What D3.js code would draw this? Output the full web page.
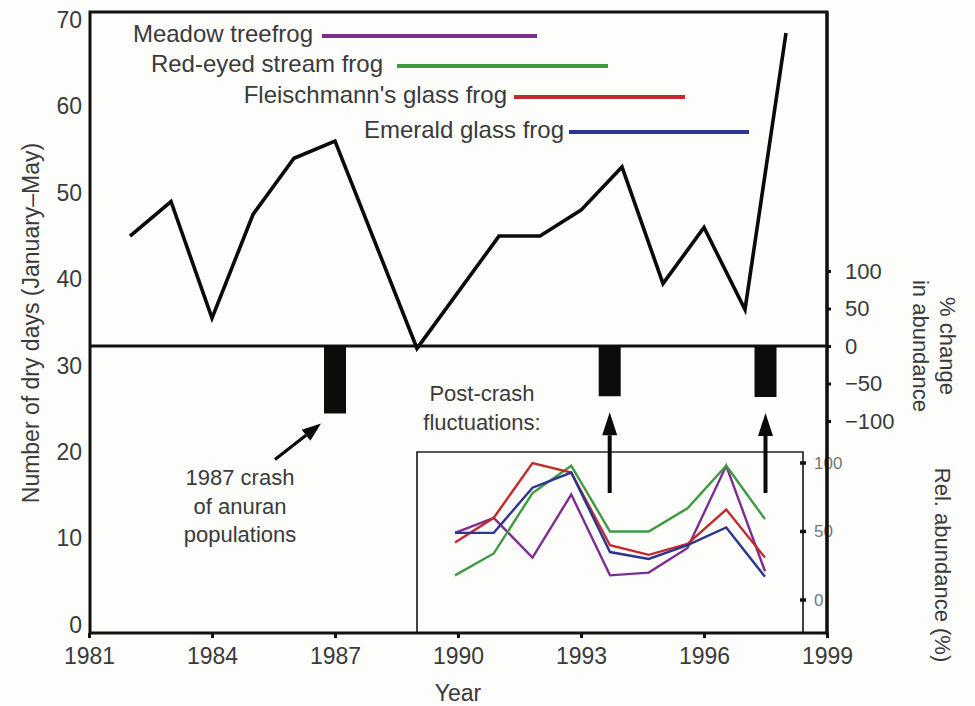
<!DOCTYPE html>
<html>
<head>
<meta charset="utf-8">
<script src="https://cdn.jsdelivr.net/npm/d3@7"></script>
<style>
  html, body { margin: 0; padding: 0; background: #fdfdfb; }
  svg { display: block; }
  text { font-family: "Liberation Sans", Arial, Helvetica, sans-serif; fill: #3a3a3a; }
</style>
</head>
<body>
<svg id="chart" width="975" height="706"></svg>
<script>
// Dry days per season (January–May)
const dryYears = [1982, 1983, 1984, 1985, 1986, 1987, 1989, 1991, 1992, 1993, 1994, 1995, 1996, 1997, 1998];
const dryDays  = [45, 49, 35.5, 47.5, 54, 56, 32, 45, 45, 48, 53, 39.5, 46, 36.5, 68.5];

// Crash events: % change in abundance
const crashYears  = [1987, 1993.7, 1997.5];
const crashChange = [-90, -67, -68];

// Post-crash relative abundance (%) of four species
const insetYears = [1990, 1991, 1992, 1993, 1994, 1995, 1996, 1997, 1998];
const species = ["Meadow treefrog", "Red-eyed stream frog", "Fleischmann's glass frog", "Emerald glass frog"];
const speciesColors = ["#7d2e8f", "#3f9a44", "#c42a2c", "#2c3590"];
const meadowTreefrog     = [49, 60, 31, 77, 18, 20, 38, 98, 21];
const redEyedStreamFrog  = [18, 34, 78, 98, 50, 50, 67, 98, 59];
const fleischmannsFrog   = [42, 60, 100, 93, 40, 33, 41, 66, 31];
const emeraldGlassFrog   = [49, 49, 82, 93, 35, 30, 40, 53, 17];
const insetSeries = [meadowTreefrog, redEyedStreamFrog, fleischmannsFrog, emeraldGlassFrog];

// Tick labels
const xTicks = [1981, 1984, 1987, 1990, 1993, 1996, 1999];
const dryTicks = [0, 10, 20, 30, 40, 50, 60, 70];
const changeTicks = [-100, -50, 0, 50, 100];
const relTicks = [0, 50, 100];

const svg = d3.select("#chart");
const FONT = 23;
const FAMILY = "Liberation Sans, Arial, sans-serif";

// Layout
const frame = { left: 90, right: 827, top: 12, bottom: 633 };
const x = d3.scaleLinear().domain([1981, 1999]).range([89, 827]);
const yDry = d3.scaleLinear().domain([0, 70]).range([625, 20]);
const yChange = d3.scaleLinear().domain([-100, 100]).range([421, 271]);
const yRel = d3.scaleLinear().domain([0, 100]).range([600, 463]);
const xInset = d3.scaleLinear().domain([1990, 1998]).range([455, 765]);
const inset = { left: 417, right: 803, top: 452, bottom: frame.bottom };

// ---- Inset: post-crash fluctuations ----
const gi = svg.append("g");
gi.append("path")
  .attr("d", `M${inset.left},${inset.bottom}V${inset.top}H${inset.right}V${inset.bottom}`)
  .attr("fill", "none").attr("stroke", "#222").attr("stroke-width", 1.7);

// inset axis ticks and labels (the main right axis is drawn over them)
relTicks.forEach(v => {
  gi.append("line").attr("x1", inset.right - 3).attr("x2", inset.right + 3)
    .attr("y1", yRel(v)).attr("y2", yRel(v))
    .attr("stroke", "#111").attr("stroke-width", 3.5);
  gi.append("text").attr("x", inset.right + 11).attr("y", yRel(v))
    .attr("dy", "0.35em").attr("font-size", 17).style("fill", "#777")
    .text(v);
});

const insetLine = d3.line().x((d, i) => xInset(insetYears[i])).y(d => yRel(d));
insetSeries.forEach((s, k) => {
  gi.append("path").datum(s)
    .attr("d", insetLine)
    .attr("fill", "none")
    .attr("stroke", speciesColors[k])
    .attr("stroke-width", 2.4)
    .attr("stroke-linejoin", "miter");
});

// ---- Main frame ----
svg.append("rect")
  .attr("x", frame.left).attr("y", frame.top)
  .attr("width", frame.right - frame.left).attr("height", frame.bottom - frame.top)
  .attr("fill", "none").attr("stroke", "#111").attr("stroke-width", 3);
// divider at 0 % change
svg.append("line")
  .attr("x1", frame.left).attr("x2", frame.right)
  .attr("y1", yChange(0)).attr("y2", yChange(0))
  .attr("stroke", "#111").attr("stroke-width", 3);

// ---- Axes ----
const xAxis = svg.append("g").attr("transform", `translate(0,${frame.bottom})`)
  .call(d3.axisBottom(x).tickValues(xTicks).tickFormat(d3.format("d")).tickSize(5).tickPadding(10));
xAxis.select(".domain").remove();
xAxis.selectAll(".tick line").attr("stroke", "#111").attr("stroke-width", 3);
xAxis.selectAll("text").attr("font-size", FONT).style("font-family", FAMILY).style("fill", "#3a3a3a");

const yAxisL = svg.append("g").attr("transform", `translate(${frame.left},0)`)
  .call(d3.axisLeft(yDry).tickValues(dryTicks).tickSize(0).tickPadding(8));
yAxisL.select(".domain").remove();
yAxisL.selectAll("text").attr("font-size", FONT).style("font-family", FAMILY).style("fill", "#3a3a3a");

const yAxisR = svg.append("g").attr("transform", `translate(${frame.right},0)`)
  .call(d3.axisRight(yChange).tickValues(changeTicks).tickSize(4).tickPadding(14));
yAxisR.select(".domain").remove();
yAxisR.selectAll(".tick line").attr("stroke", "#111").attr("stroke-width", 3);
yAxisR.selectAll("text").attr("font-size", 22).style("font-family", FAMILY).style("fill", "#3a3a3a");

// Axis titles
svg.append("text").attr("transform", "translate(31,323) rotate(-90)")
  .attr("text-anchor", "middle").attr("dy", "0.35em").attr("font-size", FONT)
  .text("Number of dry days (January\u2013May)");
svg.append("text").attr("x", x(1990)).attr("y", 693).attr("dy", "0.35em")
  .attr("text-anchor", "middle").attr("font-size", FONT).text("Year");
const rt = svg.append("text").attr("transform", `translate(934,${yChange(0)}) rotate(90)`)
  .attr("text-anchor", "middle").attr("font-size", 22);
rt.append("tspan").attr("x", 0).attr("dy", "-0.25em").text("% change");
rt.append("tspan").attr("x", 0).attr("dy", "1.2em").text("in abundance");
svg.append("text").attr("transform", "translate(943,565) rotate(90)")
  .attr("text-anchor", "middle").attr("dy", "0.35em").attr("font-size", 22)
  .text("Rel. abundance (%)");

// ---- Crash bars ----
const barW = 22;
svg.append("g").selectAll("rect").data(crashYears).join("rect")
  .attr("x", d => x(d) - barW / 2)
  .attr("y", yChange(0))
  .attr("width", barW)
  .attr("height", (d, i) => yChange(crashChange[i]) - yChange(0))
  .attr("fill", "#0c0c0c");

// ---- Dry-days line ----
svg.append("path").datum(dryDays)
  .attr("d", d3.line().x((d, i) => x(dryYears[i])).y(d => yDry(d)))
  .attr("fill", "none").attr("stroke", "#0a0a0a")
  .attr("stroke-width", 3.6).attr("stroke-linejoin", "miter");

// ---- Legend ----
const legend = [
  { textEnd: 313, y: 36, x1: 322, x2: 537 },
  { textEnd: 383, y: 66, x1: 397, x2: 608 },
  { textEnd: 507, y: 97, x1: 514, x2: 685 },
  { textEnd: 564, y: 132, x1: 569, x2: 749 }
];
legend.forEach((l, i) => {
  svg.append("text").attr("x", l.textEnd).attr("y", l.y + 6)
    .attr("text-anchor", "end").attr("font-size", 24).text(species[i]);
  svg.append("line").attr("x1", l.x1).attr("x2", l.x2).attr("y1", l.y).attr("y2", l.y)
    .attr("stroke", speciesColors[i]).attr("stroke-width", 4);
});

// ---- Arrows & annotations ----
function arrow(x1, y1, x2, y2, w, headLen, headW) {
  const ang = Math.atan2(y2 - y1, x2 - x1);
  const bx = x2 - headLen * Math.cos(ang), by = y2 - headLen * Math.sin(ang);
  svg.append("line").attr("x1", x1).attr("y1", y1).attr("x2", bx).attr("y2", by)
    .attr("stroke", "#0a0a0a").attr("stroke-width", w);
  const px = -Math.sin(ang) * headW / 2, py = Math.cos(ang) * headW / 2;
  svg.append("path")
    .attr("d", `M${x2},${y2}L${bx + px},${by + py}L${bx - px},${by - py}Z`)
    .attr("fill", "#0a0a0a");
}
const tip1x = x(crashYears[0]) - 14, tip1y = yChange(crashChange[0]) + 10;
arrow(tip1x - 46, tip1y + 36, tip1x, tip1y, 3.2, 19, 14);
[1, 2].forEach(i => {
  const ax = x(crashYears[i]);
  arrow(ax, 493, ax, yChange(crashChange[i]) + 16, 4, 23, 15);
});

const note1 = svg.append("text").attr("text-anchor", "middle").attr("font-size", 22);
["1987 crash", "of anuran", "populations"].forEach((t, i) => {
  note1.append("tspan").attr("x", 240).attr("y", 485 + i * 28.5).text(t);
});
const note2 = svg.append("text").attr("text-anchor", "middle").attr("font-size", 22);
["Post-crash", "fluctuations:"].forEach((t, i) => {
  note2.append("tspan").attr("x", 482).attr("y", 401 + i * 29).text(t);
});

// main right axis line on top of the inset labels
svg.append("line").attr("x1", frame.right).attr("x2", frame.right)
  .attr("y1", frame.top).attr("y2", frame.bottom)
  .attr("stroke", "#111").attr("stroke-width", 3.2);
</script>
</body>
</html>
